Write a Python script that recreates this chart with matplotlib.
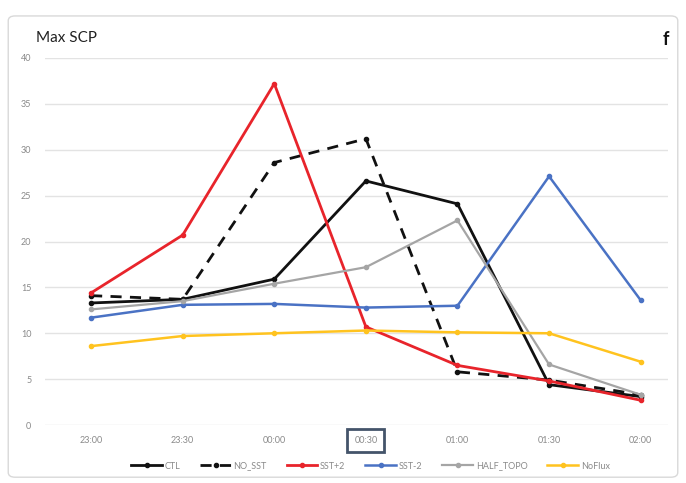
import matplotlib.pyplot as plt
from matplotlib.patches import FancyBboxPatch

plt.rcParams['font.family'] = ['Lato', 'DejaVu Sans']

times = ['23:00', '23:30', '00:00', '00:30', '01:00', '01:30', '02:00']

ctl = [13.3, 13.7, 15.9, 26.6, 24.1, 4.4, 3.1]
no_sst = [14.1, 13.7, 28.6, 31.2, 5.8, 4.9, 3.3]
sst_p2 = [14.4, 20.7, 37.2, 10.7, 6.5, 4.8, 2.7]
sst_m2 = [11.7, 13.1, 13.2, 12.8, 13.0, 27.1, 13.6]
half_topo = [12.6, 13.5, 15.4, 17.2, 22.3, 6.6, 3.3]
noflux = [8.6, 9.7, 10.0, 10.3, 10.1, 10.0, 6.9]

series = [
    ('CTL', ctl, '#111111', '-', 2.0),
    ('NO_SST', no_sst, '#111111', '--', 2.0),
    ('SST+2', sst_p2, '#e8242b', '-', 2.0),
    ('SST-2', sst_m2, '#4a72c4', '-', 1.8),
    ('HALF_TOPO', half_topo, '#a5a5a5', '-', 1.6),
    ('NoFlux', noflux, '#ffc31f', '-', 1.8),
]

fig = plt.figure(figsize=(6.86, 4.83), dpi=100)

# outer chart frame
frame = FancyBboxPatch((0.012, 0.012), 0.976, 0.955, boxstyle='round,pad=0,rounding_size=0.01',
                       transform=fig.transFigure, facecolor='none', edgecolor='#d9d9d9', lw=1.0,
                       zorder=-1)
fig.patches.append(frame)

ax = fig.add_axes([0.066, 0.120, 0.908, 0.760])
ax.patch.set_alpha(0)
x = list(range(len(times)))
for label, vals, color, ls, lw in series:
    if ls == '--':
        ax.plot(x, vals, color=color, lw=lw, marker='o', markersize=3,
                label=label, dashes=(4, 3))
    else:
        ax.plot(x, vals, color=color, lw=lw, marker='o', markersize=3, label=label)

ax.set_ylim(0, 40)
ax.set_xlim(-0.5, 6.3)
ax.set_yticks(range(0, 41, 5))
ax.set_xticks(x)
ax.set_xticklabels(times)
ax.grid(axis='y', color='#e3e3e3', lw=1.0)
ax.set_axisbelow(True)
for s in ax.spines.values():
    s.set_visible(False)
ax.tick_params(length=0, labelsize=6.5, colors='#8a8a8a', pad=8)
ax.tick_params(axis='y', pad=10)

# highlight the 00:30 label
hl = ax.get_xticklabels()[3]
hl.set_bbox(dict(facecolor='white', edgecolor='#44546a', lw=2.0, pad=5))

fig.text(0.052, 0.922, 'Max SCP', fontsize=11, color='#222222', va='center')
fig.text(0.976, 0.918, 'f', fontsize=13, fontweight='bold', color='#111111', ha='right', va='center')

fig.legend(loc='center', bbox_to_anchor=(0.54, 0.035), ncol=6, frameon=False,
           fontsize=6.5, handlelength=3.4, columnspacing=2.2, handletextpad=0.3,
           labelcolor='#8a8a8a')

fig.savefig('out.png', dpi=100)
